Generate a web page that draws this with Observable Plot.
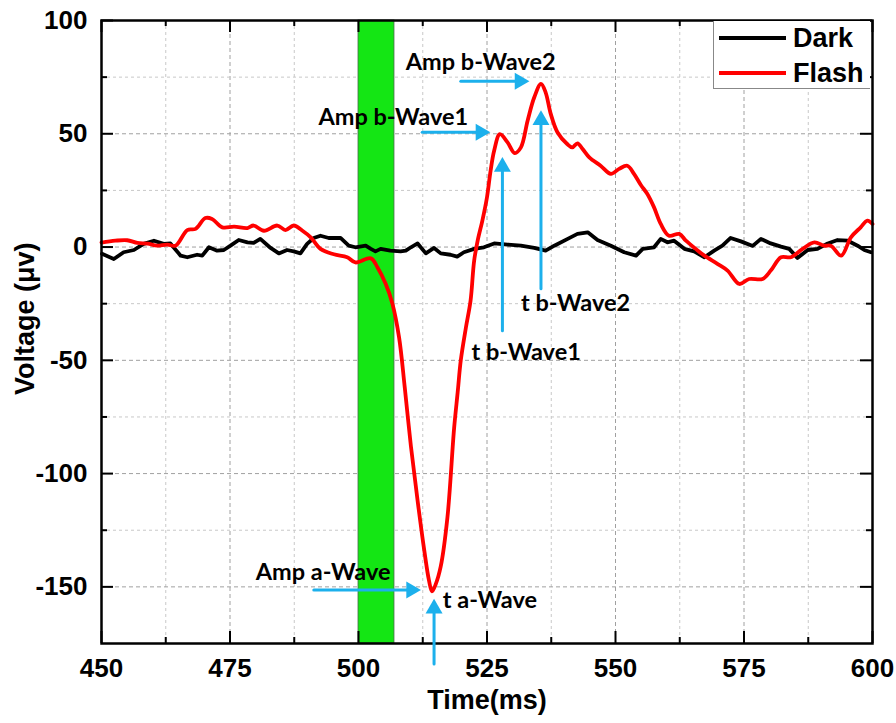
<!DOCTYPE html>
<html><head><meta charset="utf-8">
<script src="https://cdn.jsdelivr.net/npm/d3@7"></script>
<script src="https://cdn.jsdelivr.net/npm/@observablehq/plot@0.6"></script>
<style>
body{margin:0;background:#fff;}
#wrap{position:relative;width:896px;height:723px;}
.legend{position:absolute;left:713px;top:21px;width:157px;height:68px;border:1px solid #888;border-top:none;border-right:none;background:#fff;box-sizing:border-box;font:bold 27px "Liberation Sans",Arial,sans-serif;}
.legend .row{position:absolute;left:0;height:34px;width:157px;}
.legend .sw{position:absolute;left:5px;width:67px;height:4px;top:15px;}
.legend .lab{position:absolute;left:79px;top:1px;line-height:32px;}
</style></head>
<body><div id="wrap"></div>
<script>
// ---- data ----
const darkTime = [450.1,452.4,454.3,456.3,458.2,460.2,462.1,463.4,465.4,466.7,468.6,469.6,470.9,472.5,473.8,475.1,476.7,478.4,479.6,480.9,482.9,484.5,486.1,487.4,488.7,490.0,491.3,492.6,494.2,496.5,498.1,499.4,501.4,502.4,503.3,504.3,506.2,508.2,509.2,510.2,511.5,513.1,514.7,516.0,517.9,519.2,520.5,522.5,524.4,526.4,529.0,531.6,534.2,536.4,538.1,540.7,542.6,544.6,546.5,549.1,551.7,554.0,555.3,557.5,558.8,560.1,561.4,563.4,565.3,567.3,569.2,570.8,572.4,574.4,576.7,578.3,580.2,582.2,583.8,585.4,587.4,589.3,591.3,593.2,595.2,597.1,598.4,599.7];
const darkVolt = [-3,-5.3,-2.3,-1.3,1.4,2.8,1.4,1.6,-3.8,-4.5,-3.4,-3.8,-0.1,-1.6,-1.3,0.6,3.1,2.1,1.8,3.6,-0.4,-2.8,-1.3,-1.9,-2.8,1.4,4,5,4,4,0.6,-0.1,0.6,-0.8,-1.9,-0.8,-1.6,-1.9,-1.6,-0.1,1.6,-2.8,-0.4,-2.8,-3.4,-4.2,-2.3,-0.8,-0.1,1.6,1.1,0.6,-0.4,-1.6,0.6,3.6,5.8,6.5,3.1,0.6,-2.3,-3.8,-0.8,-0.1,3.6,2.1,2.8,-0.8,-1.9,-4.5,-1.6,0.6,4,2.5,0.5,3.6,1.6,0.2,-0.8,-4.8,-1.3,-0.8,1.6,3.1,2.8,0.6,-1.3,-2.3];
const flashTime = [450.0,452.7,455.0,457.0,459.0,460.8,462.8,464.4,466.7,468.3,470.2,471.5,473.5,475.8,478.4,479.6,481.6,484.2,485.8,487.4,489.1,490.7,492.6,495.2,497.8,499.4,502.4,503.7,505.3,506.6,507.9,509.0,510.2,511.5,512.8,513.7,514.3,515.0,516.0,517.3,518.6,519.3,519.9,520.9,521.8,522.5,523.2,524.1,525.0,525.7,526.4,527.5,529.0,530.4,531.6,532.9,534.2,535.5,536.4,537.4,538.7,540.6,541.6,542.6,543.6,544.9,547.1,549.1,550.7,552.3,553.6,554.9,556.2,557.5,558.8,560.4,562.4,563.7,565.6,567.3,569.9,571.8,574.1,576.0,578.6,580.2,582.2,584.1,586.4,588.7,590.6,591.9,593.9,595.8,597.7,599.0,600.0];
const flashVolt = [2.0,2.8,3.0,1.8,1.5,0.6,1.1,0.6,7.5,8.0,12.8,12.4,8.7,9.0,8.4,9.5,7.2,9.5,7.5,9.5,7.2,4.3,-0.8,-3.2,-4.5,-6.8,-5.0,-9.0,-16.3,-25.0,-40.0,-62.0,-88.0,-112.0,-134.0,-147.0,-152.0,-149.0,-141.0,-119.4,-80.0,-64.0,-50.0,-35.5,-23.7,-6.0,3.0,11.7,22.0,33.7,42.6,49.8,46.2,41.5,44.0,55.8,66.1,72.0,68.3,58.8,50.7,45.5,44.0,45.8,43.3,39.6,35.9,32.3,34.5,35.9,32.3,27.5,23.4,17.5,10.2,5.0,5.8,2.8,-0.8,-3.8,-7.5,-10.4,-16.3,-14.1,-14.1,-10.4,-4.5,-4.5,-0.8,2.1,0.6,0.6,-3.8,4.3,8.7,11.7,10.2];
const seriesNames = ["Dark", "Flash"];
const flashWindow = [500, 507];
const xMajorTicks = [450, 475, 500, 525, 550, 575, 600];
const xMinorTicks = [462.5, 487.5, 512.5, 537.5, 562.5, 587.5];
const yMajorTicks = [-150, -100, -50, 0, 50, 100];
const yMinorTicks = [-125, -75, -25, 25, 75];
const xDomain = [450, 600];
const yDomain = [-175, 100];
const labelText = ["Amp b-Wave2", "Amp b-Wave1", "t b-Wave1", "t b-Wave2", "Amp a-Wave", "t a-Wave"];
const labelX = [509.2, 492.2, 522.0, 531.6, 480.0, 516.4];
const labelY = [81.4, 57.3, -46.5, -25.1, -143.6, -156.1];
const arrowDir = ["right", "right", "up", "up", "right", "up"];
const arrowX1 = [519.9, 512.4, 528.0, 535.5, 491.3, 514.7];
const arrowY1 = [73.2, 50.7, -36.9, -18.4, -151.4, -184.0];
const arrowX2 = [533.2, 525.6, 528.0, 535.5, 512.1, 514.7];
const arrowY2 = [73.2, 50.7, 39.6, 60.2, -151.4, -155.4];

// ---- build ----
const dark = darkTime.map((t, i) => ({t, v: darkVolt[i]}));
const flash = flashTime.map((t, i) => ({t, v: flashVolt[i]}));
const labels = labelText.map((s, i) => ({s, x: labelX[i], y: labelY[i]}));
const arrows = arrowDir.map((d, i) => ({d, x1: arrowX1[i], y1: arrowY1[i], x2: arrowX2[i], y2: arrowY2[i]}));
const blue = "#1cb0ec";
const W = 896, H = 723, mt = 20, mb = 80, ml = 101, mr = 24;
const iw = W - ml - mr, ih = H - mt - mb;
const inner = (arr) => arr.filter(v => v > xDomain[0] && v < xDomain[1]);
const innerY = (arr) => arr.filter(v => v > yDomain[0] && v < yDomain[1]);

const chart = Plot.plot({
  width: W, height: H,
  marginTop: mt, marginBottom: mb, marginLeft: ml, marginRight: mr,
  x: {domain: xDomain},
  y: {domain: yDomain},
  style: {fontFamily: "'Liberation Sans', Arial, sans-serif", fontWeight: "bold", background: "white", color: "black"},
  marks: [
    // grid
    Plot.ruleX(inner(xMinorTicks), {stroke: "#c8c8c8", strokeDasharray: "3,3", strokeWidth: 1}),
    Plot.ruleX(inner(xMajorTicks), {stroke: "#a0a0a0", strokeDasharray: "4,3", strokeWidth: 1}),
    Plot.ruleY(innerY(yMinorTicks), {stroke: "#c8c8c8", strokeDasharray: "3,3", strokeWidth: 1}),
    Plot.ruleY(innerY(yMajorTicks), {stroke: "#a0a0a0", strokeDasharray: "4,3", strokeWidth: 1}),
    // flash window
    Plot.rect([flashWindow], {x1: d => d[0], x2: d => d[1], y1: () => yDomain[0], y2: () => yDomain[1], fill: "#14e614", stroke: "#4a6a4a", strokeWidth: 0.8}),
    // series
    Plot.line(dark, {x: "t", y: "v", stroke: "black", strokeWidth: 3.8, curve: "linear"}),
    Plot.line(flash, {x: "t", y: "v", stroke: "#ff0000", strokeWidth: 3.8, curve: "catmull-rom"}),
    // inward ticks
    Plot.ruleX(xMajorTicks, {insetTop: ih - 12, stroke: "black", strokeWidth: 2}),
    Plot.ruleX(xMajorTicks, {insetBottom: ih - 12, stroke: "black", strokeWidth: 2}),
    Plot.ruleX(xMinorTicks, {insetTop: ih - 6, stroke: "black", strokeWidth: 2}),
    Plot.ruleX(xMinorTicks, {insetBottom: ih - 6, stroke: "black", strokeWidth: 2}),
    Plot.ruleY(yMajorTicks, {insetRight: iw - 12, stroke: "black", strokeWidth: 2}),
    Plot.ruleY(yMajorTicks, {insetLeft: iw - 12, stroke: "black", strokeWidth: 2}),
    Plot.ruleY(yMinorTicks, {insetRight: iw - 6, stroke: "black", strokeWidth: 2}),
    Plot.ruleY(yMinorTicks, {insetLeft: iw - 6, stroke: "black", strokeWidth: 2}),
    Plot.frame({stroke: "black", strokeWidth: 2.5}),
    // axes labels
    Plot.axisX(xMajorTicks, {tickSize: 0, tickPadding: 15, fontSize: 26, fontWeight: "bold", label: null, tickFormat: d => String(d)}),
    Plot.axisY(yMajorTicks, {tickSize: 0, tickPadding: 14, fontSize: 26, fontWeight: "bold", label: null, tickFormat: d => String(d)}),
    Plot.text(["Time(ms)"], {text: d => d, frameAnchor: "bottom", dy: 65, fontSize: 27, fontWeight: "bold"}),
    Plot.text(["Voltage (μv)"], {text: d => d, frameAnchor: "left", rotate: -90, dx: -76, dy: 63, fontSize: 27, fontWeight: "bold"}),
    // annotations
    Plot.arrow(arrows, {x1: "x1", y1: "y1", x2: "x2", y2: "y2", stroke: blue, strokeWidth: 3, headLength: 0, insetEnd: 9}),
    Plot.dot(arrows.filter(a => a.d === "right"), {x: "x2", y: "y2", symbol: "triangle", r: 6.3, fill: blue, stroke: "none", rotate: 90, dx: -9.5}),
    Plot.dot(arrows.filter(a => a.d === "up"), {x: "x2", y: "y2", symbol: "triangle", r: 6.3, fill: blue, stroke: "none", dy: 9.5}),
    Plot.text(labels, {x: "x", y: "y", text: "s", textAnchor: "start", lineAnchor: "middle", fontFamily: "Lato, 'Open Sans', sans-serif", fontWeight: "bold", fontSize: 23.5, fill: "black"})
  ]
});
const wrap = document.getElementById("wrap");
wrap.appendChild(chart);

// legend
const lg = document.createElement("div");
lg.className = "legend";
const colors = {Dark: "black", Flash: "#ff0000"};
seriesNames.forEach((n, i) => {
  const row = document.createElement("div");
  row.className = "row";
  row.style.top = (i * 35) + "px";
  const sw = document.createElement("div");
  sw.className = "sw";
  sw.style.background = colors[n];
  const lab = document.createElement("div");
  lab.className = "lab";
  lab.textContent = n;
  row.appendChild(sw); row.appendChild(lab);
  lg.appendChild(row);
});
wrap.appendChild(lg);
</script>
</body></html>
